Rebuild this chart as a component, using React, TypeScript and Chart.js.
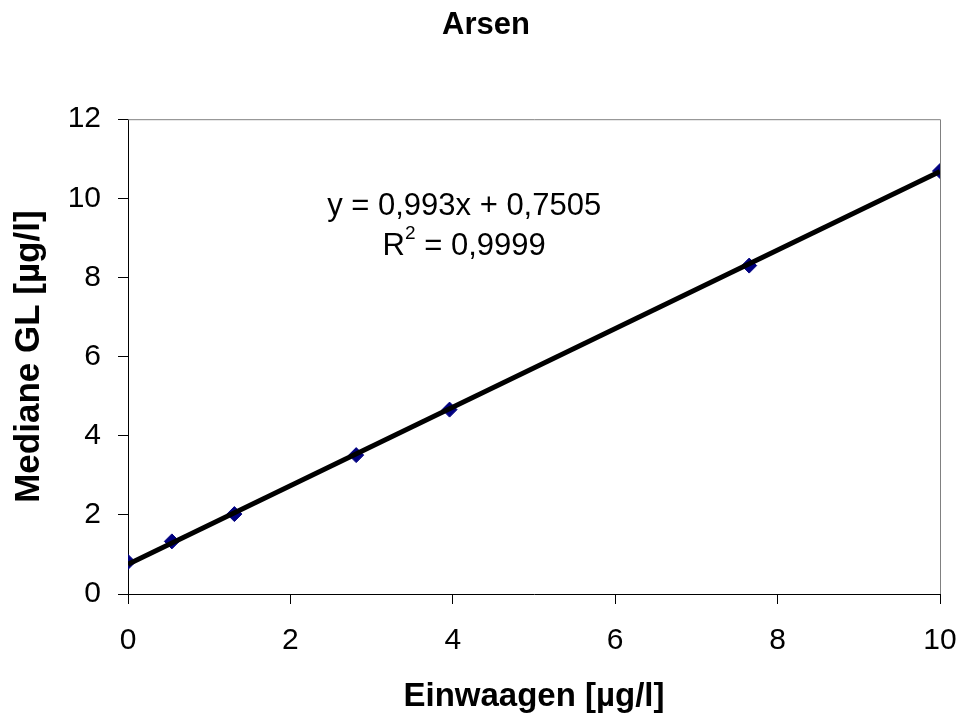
import React, { useEffect, useRef } from "react";
import { Chart, registerables } from "chart.js";

Chart.register(...registerables);

const chartTitle = "Arsen";
const xTitle = "Einwaagen [µg/l]";
const yTitle = "Mediane GL [µg/l]";

const xValues = [0, 0.54, 1.31, 2.81, 3.96, 7.65, 10];
const yValues = [0.81, 1.33, 2.02, 3.51, 4.66, 8.3, 10.69];

const trendX = [0, 10];
const trendY = [0.7505, 10.6805];

const equationText = "y = 0,993x + 0,7505";
const r2Label = "R";
const r2Sup = "2";
const r2Value = " = 0,9999";
const annotationPos = { x: 4.14, y1: 9.8, y2: 8.79 };

const FONT = "'Liberation Sans', Arial, Helvetica, sans-serif";

const framePlugin = {
  id: "frame",
  afterDatasetsDraw(chart: any) {
    const { ctx, chartArea } = chart;
    ctx.save();
    ctx.strokeStyle = "#808080";
    ctx.lineWidth = 1;
    ctx.beginPath();
    ctx.moveTo(chartArea.left, chartArea.top + 0.5);
    ctx.lineTo(chartArea.right + 0.5, chartArea.top + 0.5);
    ctx.lineTo(chartArea.right + 0.5, chartArea.bottom);
    ctx.stroke();
    ctx.restore();
  },
  afterDraw(chart: any) {
    const { ctx, scales } = chart;
    const cx = scales.x.getPixelForValue(annotationPos.x);
    const y1 = scales.y.getPixelForValue(annotationPos.y1);
    const y2 = scales.y.getPixelForValue(annotationPos.y2);
    ctx.save();
    ctx.fillStyle = "#000";
    ctx.textBaseline = "middle";
    ctx.font = `31px ${FONT}`;
    ctx.textAlign = "center";
    ctx.fillText(equationText, cx, y1);
    ctx.textAlign = "left";
    const wR = ctx.measureText(r2Label).width;
    const wV = ctx.measureText(r2Value).width;
    ctx.font = `19px ${FONT}`;
    const wS = ctx.measureText(r2Sup).width;
    const total = wR + wS + wV;
    let x = cx - total / 2;
    ctx.font = `31px ${FONT}`;
    ctx.fillText(r2Label, x, y2);
    x += wR;
    ctx.font = `19px ${FONT}`;
    ctx.fillText(r2Sup, x, y2 - 12);
    x += wS;
    ctx.font = `31px ${FONT}`;
    ctx.fillText(r2Value, x, y2);
    ctx.restore();
  },
};

export default function App() {
  const ref = useRef<HTMLCanvasElement | null>(null);

  useEffect(() => {
    if (!ref.current) return;
    const chart = new Chart(ref.current, {
      type: "scatter",
      data: {
        datasets: [
          {
            type: "line",
            label: "Trend",
            data: trendX.map((x, i) => ({ x, y: trendY[i] })),
            borderColor: "#000000",
            borderWidth: 5,
            pointRadius: 0,
            fill: false,
            order: 0,
          } as any,
          {
            label: "Arsen",
            data: xValues.map((x, i) => ({ x, y: yValues[i] })),
            pointStyle: "rectRot",
            pointRadius: 7.5,
            backgroundColor: "#000080",
            borderColor: "#000080",
            borderWidth: 1,
            order: 1,
          },
        ],
      },
      options: {
        responsive: false,
        animation: false,
        layout: { padding: { left: 32, right: 23, top: 0, bottom: 0 } },
        plugins: {
          legend: { display: false },
          tooltip: { enabled: false },
          title: {
            display: true,
            text: chartTitle,
            color: "#000",
            font: { family: FONT, size: 31, weight: "bold" },
            padding: { top: 7, bottom: 75 },
          },
        },
        scales: {
          x: {
            type: "linear",
            min: 0,
            max: 10,
            ticks: {
              stepSize: 2,
              color: "#000",
              font: { family: FONT, size: 30 },
              padding: 19,
              maxRotation: 0,
            },
            grid: {
              drawOnChartArea: false,
              drawTicks: true,
              tickLength: 10,
              tickColor: "#000",
              color: "#000",
            },
            border: { color: "#000", width: 1 },
            title: {
              display: true,
              text: xTitle,
              color: "#000",
              font: { family: FONT, size: 33, weight: "bold" },
              padding: { top: 0, bottom: 0 },
            },
            afterFit(scale: any) {
              scale.height = 123;
              scale.paddingLeft = 0;
              scale.paddingRight = 0;
            },
          },
          y: {
            type: "linear",
            min: 0,
            max: 12,
            ticks: {
              stepSize: 2,
              color: "#000",
              font: { family: FONT, size: 30 },
              padding: 17,
            },
            grid: {
              drawOnChartArea: false,
              drawTicks: true,
              tickLength: 10,
              tickColor: "#000",
              color: "#000",
            },
            border: { color: "#000", width: 1 },
            title: {
              display: true,
              text: yTitle,
              color: "#000",
              font: { family: FONT, size: 35, weight: "bold" },
              padding: { top: -24, bottom: 0 },
            },
            afterFit(scale: any) {
              scale.width = 96;
              scale.paddingTop = 0;
              scale.paddingBottom = 0;
            },
          },
        },
      },
      plugins: [framePlugin],
    });
    return () => chart.destroy();
  }, []);

  return (
    <div style={{ position: "fixed", left: 0, top: 0, width: 963, height: 717, background: "#fff" }}>
      <canvas ref={ref} width={963} height={717} />
    </div>
  );
}
